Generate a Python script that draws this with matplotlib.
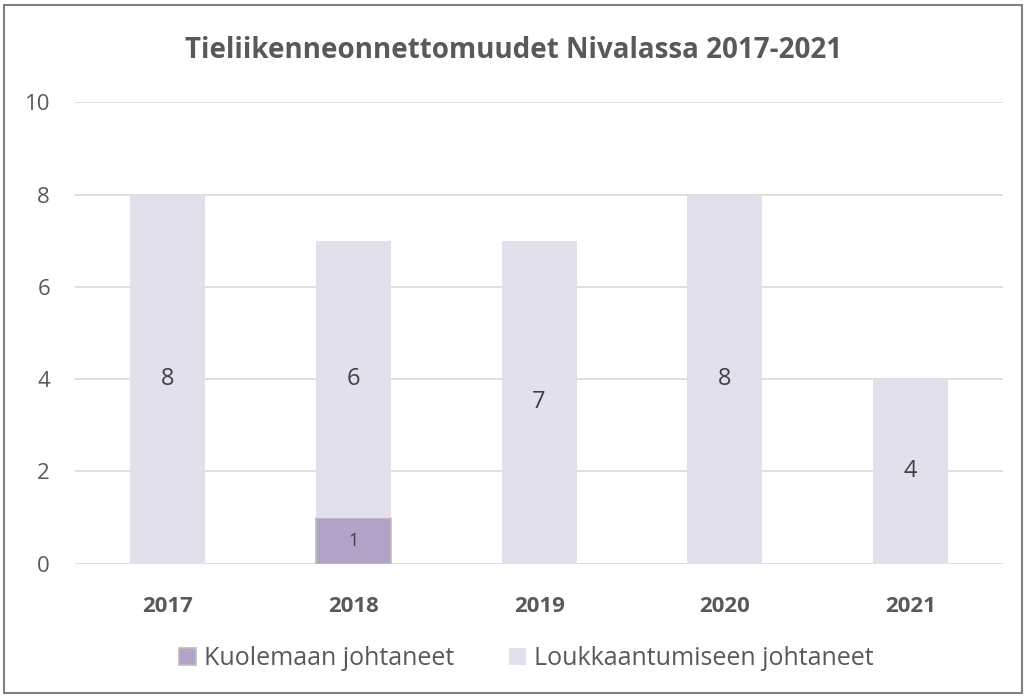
import matplotlib
matplotlib.use("Agg")
import matplotlib.pyplot as plt
from matplotlib.patches import Rectangle
import numpy as np

# data
years = ["2017", "2018", "2019", "2020", "2021"]
kuolemaan = [0, 1, 0, 0, 0]
loukkaantumiseen = [8, 6, 7, 8, 4]

plt.rcParams['font.family'] = ['Open Sans', 'DejaVu Sans']
txt = "#595959"

fig = plt.figure(figsize=(10.28, 6.96), dpi=100)
ax = fig.add_axes([0.073, 0.19, 0.903, 0.663])

x = np.arange(len(years))
w = 0.405
b1 = ax.bar(x, kuolemaan, w, color="#B3A2C7", edgecolor="#BFBFBF", linewidth=1.2,
            label="Kuolemaan johtaneet", zorder=3)
b2 = ax.bar(x, loukkaantumiseen, w, bottom=kuolemaan, color="#E4DFEC",
            label="Loukkaantumiseen johtaneet", zorder=3)

# value labels in the middle of each segment
for i in range(len(years)):
    if kuolemaan[i]:
        ax.text(x[i], kuolemaan[i] / 2, str(kuolemaan[i]), ha="center", va="center",
                fontsize=13, color="#404040", zorder=4)
    if loukkaantumiseen[i]:
        ax.text(x[i], kuolemaan[i] + loukkaantumiseen[i] / 2, str(loukkaantumiseen[i]),
                ha="center", va="center", fontsize=17, color="#404040", zorder=4)

ax.set_xlim(-0.5, len(years) - 0.5)
ax.set_ylim(0, 10)
ax.set_yticks(range(0, 11, 2))
ax.yaxis.grid(True, color="#D9D9D9", linewidth=1.2, zorder=0)
ax.set_axisbelow(True)
for s in ["top", "right", "left", "bottom"]:
    ax.spines[s].set_visible(False)
ax.tick_params(axis="both", length=0)
ax.tick_params(axis="y", labelsize=16, labelcolor=txt, pad=18)
ax.set_xticks(x)
ax.set_xticklabels(years, fontsize=16, fontweight="bold", color=txt)
ax.tick_params(axis="x", pad=23)

fig.text(0.5, 0.928, "Tieliikenneonnettomuudet Nivalassa 2017-2021", ha="center", va="center",
         fontsize=20, fontweight="bold", color=txt)

ax.legend(loc="center", bbox_to_anchor=(0.512, 0.054), bbox_transform=fig.transFigure,
          ncol=2, frameon=False, fontsize=18, labelcolor=txt, handlelength=0.68,
          handleheight=0.68, handletextpad=0.3, columnspacing=2.2)

fig.patches.append(Rectangle((0.004, 0.005), 0.99, 0.988, transform=fig.transFigure,
                             fill=False, edgecolor="#808080", linewidth=1.5))

fig.savefig("out.png", dpi=100)
